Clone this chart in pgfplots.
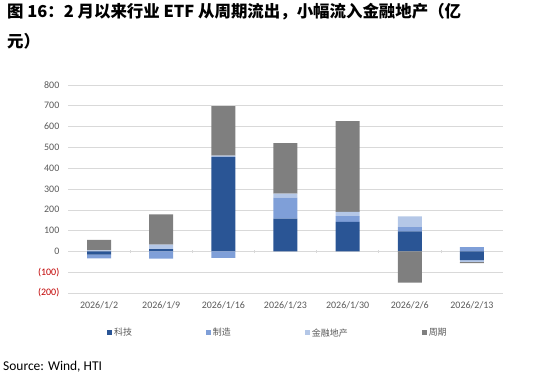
\documentclass[border=0pt]{standalone}
\usepackage{pgfplots}
\usepackage{pgfplotstable}
\pgfplotsset{compat=1.18}
\usepackage{fontspec}
\setmainfont{Carlito}
\newfontfamily\cjk{Noto Sans CJK SC}
\definecolor{tech}{HTML}{2A5595}
\definecolor{manu}{HTML}{7F9FD8}
\definecolor{fin}{HTML}{B4C7E7}
\definecolor{cyc}{HTML}{7F7F7F}
\definecolor{gridc}{HTML}{D9D9D9}
\definecolor{txt}{HTML}{595959}
\definecolor{negred}{HTML}{C00000}

\pgfplotstableread{
x tech manu fin cyc
0 0 0 5 51
1 11 0 21 146
2 455 0 5 238
3 157 101 20 242
4 142 28 20 436
5 96 21 51 0
6 0 20 0 0
}\posdata
\pgfplotstableread{
x tech manu fin cyc
0 -15 -18 0 0
1 0 -35 0 0
2 0 -31 0 0
3 0 0 0 0
4 0 0 0 0
5 0 0 0 -150
6 -42 0 -8 -6
}\negdata

\pgfplotsset{
  common/.style={
    at={(68bp,-293bp)}, anchor=south west,
    scale only axis, width=435bp, height=208bp,
    xmin=-0.5, xmax=6.5, ymin=-200, ymax=800,
    ybar stacked, bar width=24bp,
    every axis plot/.append style={draw=none},
  }
}

\begin{document}
\begin{tikzpicture}
\path[use as bounding box] (0,0) rectangle (550bp,-375bp);
\node[anchor=north west, inner sep=0pt, align=left,
      font=\cjk\bfseries\fontsize{16.5}{30}\selectfont] at (7bp,-3bp)
  {图 16：2 月以来行业 ETF 从周期流出，小幅流入金融地产（亿\\元）};

\begin{axis}[common,
  axis line style={draw=none}, tick style={draw=none},
  major tick length=0pt,
  ymajorgrids, major grid style={draw=gridc, line width=0.6pt},
  ytick={-200,-100,...,800},
  yticklabels={\textcolor{negred}{(200)},\textcolor{negred}{(100)},0,100,200,300,400,500,600,700,800},
  yticklabel style={font=\fontsize{10}{12}\selectfont, text=txt, inner sep=0pt, xshift=-8.5bp},
  xtick={0,...,6},
  xticklabels={2026/1/2,2026/1/9,2026/1/16,2026/1/23,2026/1/30,2026/2/6,2026/2/13},
  xticklabel style={font=\fontsize{10}{12}\selectfont, text=txt, inner sep=0pt, yshift=-8.5bp},
  legend columns=4,
  legend style={draw=none, fill=none, at={(axis description cs:0.4825,-0.192)}, anchor=center,
    font=\cjk\fontsize{9}{11}\selectfont, text=txt,
    /tikz/every even column/.append style={column sep=72bp}},
  legend image code/.code={\fill[#1] (0bp,-2.5bp) rectangle (5bp,2.5bp);},
]
\addplot[fill=tech] table[x=x,y=tech]{\posdata};
\addplot[fill=manu] table[x=x,y=manu]{\posdata};
\addplot[fill=fin] table[x=x,y=fin]{\posdata};
\addplot[fill=cyc] table[x=x,y=cyc]{\posdata};
\legend{科技,制造,金融地产,周期}
\pgfplotsinvokeforeach{0.5,1.5,2.5,3.5,4.5,5.5}{
  \draw[gridc, line width=0.6pt] (axis cs:#1,-8) -- (axis cs:#1,8);
}
\end{axis}

\begin{axis}[common, hide axis]
\addplot[fill=tech] table[x=x,y=tech]{\negdata};
\addplot[fill=manu] table[x=x,y=manu]{\negdata};
\addplot[fill=fin] table[x=x,y=fin]{\negdata};
\addplot[fill=cyc] table[x=x,y=cyc]{\negdata};
\end{axis}

\node[anchor=base west, inner sep=0pt, font=\fontsize{13.5}{15}\selectfont] at (3bp,-370bp) {Source: Wind, HTI};
\end{tikzpicture}
\end{document}
